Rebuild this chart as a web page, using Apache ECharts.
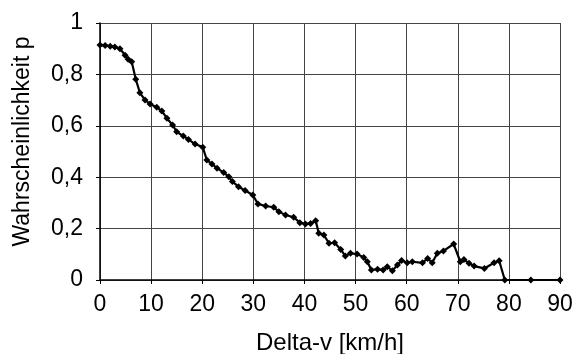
<!DOCTYPE html>
<html>
<head>
<meta charset="utf-8">
<script src="https://cdn.jsdelivr.net/npm/echarts@6/dist/echarts.min.js"></script>
<style>
html,body{margin:0;padding:0;background:#fff;}
#chart{width:577px;height:354px;}
</style>
</head>
<body>
<div id="chart"></div>
<script>
var deltaV = [0, 1, 2, 2.9, 3.9, 4.9, 5.5, 6.2, 7.0, 7.8, 8.8, 9.8, 11.1, 12.1, 13.1, 14.2, 15.0, 16.3, 17.3, 18.6, 20.1, 20.9, 21.9, 22.9, 24.2, 25.2, 25.9, 27.1, 28.4, 29.9, 30.9, 32.4, 34.0, 35.0, 36.3, 37.9, 39.1, 40.2, 41.2, 42.2, 42.8, 43.8, 44.8, 45.9, 47.1, 48.0, 49.0, 50.3, 51.6, 52.3, 53.1, 54.3, 55.4, 56.2, 57.2, 58.2, 59.0, 60.1, 61.1, 63.1, 64.1, 65.0, 66.0, 67.2, 69.2, 70.5, 71.2, 72.2, 73.2, 75.2, 77.1, 78.1, 79.2, 84.3, 90];
var prob = [0.914, 0.912, 0.91, 0.907, 0.90, 0.875, 0.859, 0.849, 0.781, 0.729, 0.70, 0.685, 0.672, 0.658, 0.629, 0.603, 0.577, 0.56, 0.547, 0.529, 0.517, 0.467, 0.451, 0.435, 0.418, 0.402, 0.383, 0.363, 0.348, 0.331, 0.296, 0.288, 0.283, 0.266, 0.253, 0.244, 0.223, 0.218, 0.22, 0.231, 0.182, 0.175, 0.143, 0.145, 0.119, 0.093, 0.104, 0.101, 0.088, 0.071, 0.039, 0.042, 0.039, 0.052, 0.036, 0.058, 0.076, 0.067, 0.071, 0.067, 0.084, 0.067, 0.104, 0.113, 0.14, 0.071, 0.08, 0.065, 0.054, 0.045, 0.067, 0.075, 0.0, 0.0, 0.0];
var xTicks = [0, 10, 20, 30, 40, 50, 60, 70, 80, 90];
var yTicks = [0, 0.2, 0.4, 0.6, 0.8, 1];
var xTitle = 'Delta-v [km/h]';
var yTitle = 'Wahrscheinlichkeit p';

var points = deltaV.map(function (x, i) { return [x, prob[i]]; });
var font = 'Liberation Sans, Arial, sans-serif';
var chart = echarts.init(document.getElementById('chart'));
chart.setOption({
  animation: false,
  backgroundColor: '#fff',
  grid: { left: 100, right: 17, top: 23, bottom: 74, show: false, containLabel: false, outerBoundsMode: 'none' },
  xAxis: {
    type: 'value', min: xTicks[0], max: xTicks[xTicks.length - 1], interval: 10,
    name: xTitle, nameLocation: 'middle', nameGap: 51,
    nameTextStyle: { fontFamily: font, fontSize: 24, color: '#000' },
    axisLine: { show: true, onZero: false, lineStyle: { color: '#000', width: 1.5 } },
    axisTick: { show: true, inside: false, length: 4, lineStyle: { color: '#000' } },
    axisLabel: { fontFamily: font, fontSize: 23, color: '#000', margin: 13 },
    splitLine: { show: true, lineStyle: { color: '#444', width: 1 } }
  },
  yAxis: {
    type: 'value', min: yTicks[0], max: yTicks[yTicks.length - 1], interval: 0.2,
    name: yTitle, nameLocation: 'middle', nameGap: 66, nameRotate: 90,
    nameTextStyle: { fontFamily: font, fontSize: 23, color: '#000', padding: [0, 0, 0, 20] },
    axisLine: { show: true, onZero: false, lineStyle: { color: '#000', width: 1.5 } },
    axisTick: { show: true, inside: false, length: 4, lineStyle: { color: '#000' } },
    axisLabel: { fontFamily: font, fontSize: 23, color: '#000', margin: 17,
      formatter: function (v) { return String(Math.round(v * 10) / 10).replace('.', ','); } },
    splitLine: { show: true, lineStyle: { color: '#444', width: 1 } }
  },
  series: [{
    type: 'line',
    data: points,
    symbol: 'diamond',
    symbolSize: 7,
    showAllSymbol: true,
    lineStyle: { color: '#000', width: 2.2 },
    itemStyle: { color: '#000' }
  }]
});
</script>
</body>
</html>
